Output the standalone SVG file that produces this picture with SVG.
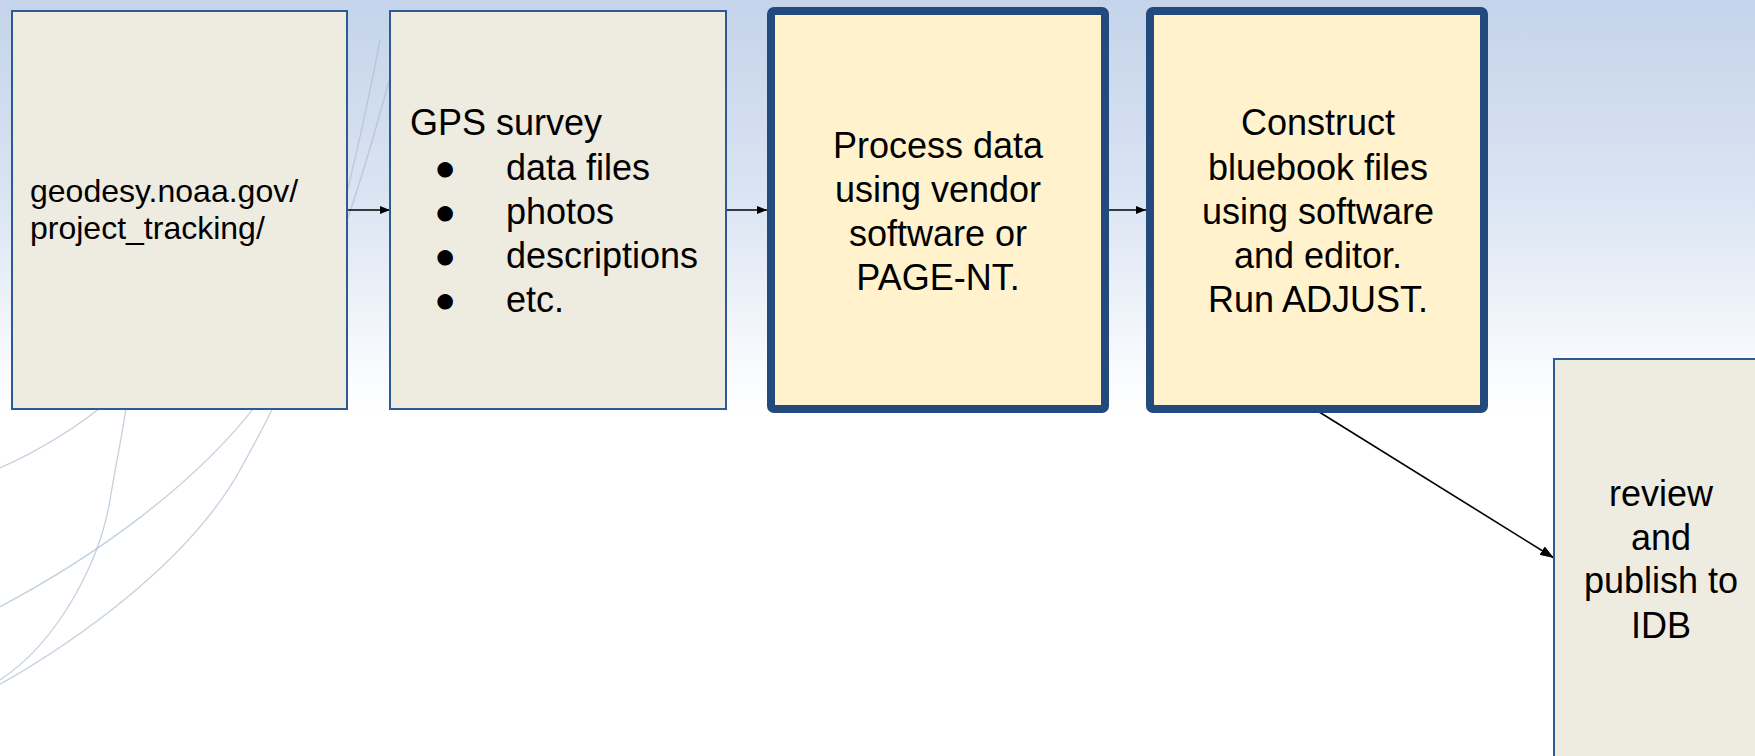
<svg xmlns="http://www.w3.org/2000/svg" width="1755" height="756" viewBox="0 0 1755 756">
<style>
  .plain { fill: #eeebe0; stroke: #2e5a94; stroke-width: 2; }
  .bold { fill: #fff2cc; stroke: #234a7c; stroke-width: 8; }
  .t { font-family: "Liberation Sans", Arial, sans-serif; fill: #000; }
  .t36 { font-size: 36px; }
  .t32 { font-size: 32px; }
  .mid { text-anchor: middle; }
  .conn { stroke: #000; stroke-width: 1.6; fill: none; }
  .curve { stroke: #aabdd0; stroke-width: 1.3; fill: none; opacity: 0.7; }
</style>
<defs>
  <linearGradient id="bg" x1="0" y1="0" x2="0" y2="1">
    <stop offset="0" stop-color="#c5d4eb"/>
    <stop offset="0.25" stop-color="#d9e3f2"/>
    <stop offset="0.48" stop-color="#f8fafd"/>
    <stop offset="0.55" stop-color="#ffffff"/>
    <stop offset="1" stop-color="#ffffff"/>
  </linearGradient>
  <marker id="ah" markerWidth="10" markerHeight="8" refX="10" refY="4" orient="auto" markerUnits="userSpaceOnUse">
    <path d="M0,0 L10,4 L0,8 Z" fill="#000"/>
  </marker>
  <marker id="ah2" markerWidth="14" markerHeight="10" refX="14" refY="5" orient="auto" markerUnits="userSpaceOnUse">
    <path d="M0,0 L14,5 L0,10 Z" fill="#000"/>
  </marker>
</defs>
<rect x="0" y="0" width="1755" height="756" fill="url(#bg)"/>
<g id="background-curves">
  <path class="curve" d="M -10 612 C 100 555 200 480 260 400 C 310 330 345 250 400 40"/>
  <path class="curve" d="M -10 690 C 80 640 190 560 240 470 C 290 380 330 300 380 40"/>
  <path class="curve" d="M 0 680 C 60 640 100 560 110 500 C 120 440 128 410 128 380"/>
  <path class="curve" d="M 0 468 C 40 450 80 425 110 400"/>
</g>
<g id="connectors">
  <line class="conn" x1="347" y1="210" x2="390" y2="210" marker-end="url(#ah)"/>
  <line class="conn" x1="726" y1="210" x2="767" y2="210" marker-end="url(#ah)"/>
  <line class="conn" x1="1105" y1="210" x2="1146" y2="210" marker-end="url(#ah)"/>
  <line class="conn" x1="1316" y1="410" x2="1554" y2="558" marker-end="url(#ah2)"/>
</g>
<g id="node-tracking">
  <rect class="plain" x="12" y="11" width="335" height="398"/>
  <text class="t t32" x="30" y="202">geodesy.noaa.gov/</text>
  <text class="t t32" x="30" y="239">project_tracking/</text>
</g>
<g id="node-survey">
  <rect class="plain" x="390" y="11" width="336" height="398"/>
  <text class="t t36" x="410" y="135">GPS survey</text>
  <text class="t t36 mid" x="445" y="180">●</text>
  <text class="t t36" x="506" y="180">data files</text>
  <text class="t t36 mid" x="445" y="224">●</text>
  <text class="t t36" x="506" y="224">photos</text>
  <text class="t t36 mid" x="445" y="268">●</text>
  <text class="t t36" x="506" y="268">descriptions</text>
  <text class="t t36 mid" x="445" y="312">●</text>
  <text class="t t36" x="506" y="312">etc.</text>
</g>
<g id="node-process">
  <rect class="bold" x="771" y="11" width="334" height="398" rx="3"/>
  <text class="t t36 mid" x="938" y="158">Process data</text>
  <text class="t t36 mid" x="938" y="202">using vendor</text>
  <text class="t t36 mid" x="938" y="246">software or</text>
  <text class="t t36 mid" x="938" y="290">PAGE-NT.</text>
</g>
<g id="node-construct">
  <rect class="bold" x="1150" y="11" width="334" height="398" rx="3"/>
  <text class="t t36 mid" x="1318" y="135">Construct</text>
  <text class="t t36 mid" x="1318" y="180">bluebook files</text>
  <text class="t t36 mid" x="1318" y="224">using software</text>
  <text class="t t36 mid" x="1318" y="268">and editor.</text>
  <text class="t t36 mid" x="1318" y="312">Run ADJUST.</text>
</g>
<g id="node-review">
  <rect class="plain" x="1554" y="359" width="214" height="420"/>
  <text class="t t36 mid" x="1661" y="506">review</text>
  <text class="t t36 mid" x="1661" y="550">and</text>
  <text class="t t36 mid" x="1661" y="593">publish to</text>
  <text class="t t36 mid" x="1661" y="638">IDB</text>
</g>
</svg>
